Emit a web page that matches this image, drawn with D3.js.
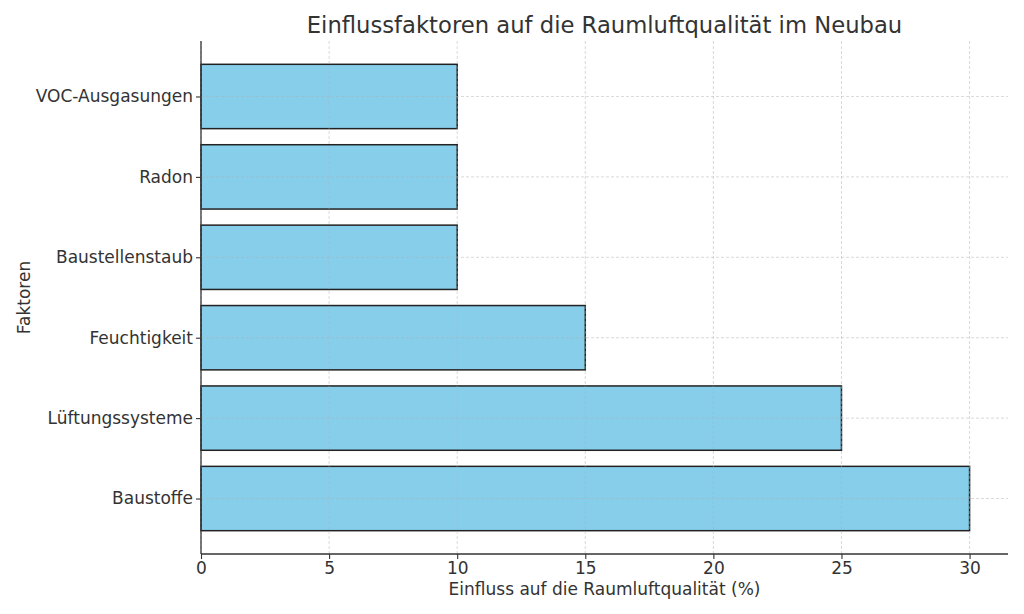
<!DOCTYPE html>
<html><head><meta charset="utf-8">
<script src="https://cdn.jsdelivr.net/npm/d3@7"></script>
<style>body{margin:0;background:#fff}svg{display:block}text{font-family:"DejaVu Sans",sans-serif;fill:#333}</style>
</head><body><svg id="c" width="1024" height="614"></svg>
<script>
const categories = ["Baustoffe","Lüftungssysteme","Feuchtigkeit","Baustellenstaub","Radon","VOC-Ausgasungen"];
const values = [30,25,15,10,10,10];
const xTicks = [0,5,10,15,20,25,30];
const title = "Einflussfaktoren auf die Raumluftqualität im Neubau";
const xLabel = "Einfluss auf die Raumluftqualität (%)";
const yLabel = "Faktoren";

const L=201,R=1008,T=41,B=554;
const svg=d3.select("#c");
const x=d3.scaleLinear().domain([0,31.5]).range([L,R]);
const y=d3.scaleLinear().domain([-0.69,5.69]).range([B,T]);
const bh=y(0)-y(0.8);

const g=svg.append("g");
g.selectAll("rect.bar").data(values).join("rect").attr("class","bar")
 .attr("x",x(0)).attr("y",(d,i)=>y(i)-bh/2).attr("width",d=>x(d)-x(0)).attr("height",bh)
 .attr("fill","#87CEEB").attr("stroke","#222").attr("stroke-width",1.5);

// grid
g.selectAll("line.gx").data(xTicks).join("line").attr("x1",d=>x(d)).attr("x2",d=>x(d)).attr("y1",T).attr("y2",B)
 .attr("stroke","#b0b0b0").attr("stroke-opacity",0.6).attr("stroke-dasharray","3,2").attr("stroke-width",0.8);
g.selectAll("line.gy").data(categories).join("line").attr("x1",L).attr("x2",R).attr("y1",(d,i)=>y(i)).attr("y2",(d,i)=>y(i))
 .attr("stroke","#b0b0b0").attr("stroke-opacity",0.6).attr("stroke-dasharray","3,2").attr("stroke-width",0.8);

// axes
const xa=svg.append("g").attr("transform",`translate(0,${B})`)
 .call(d3.axisBottom(x).tickValues(xTicks).tickSize(5).tickPadding(3).tickFormat(d3.format("d")));
const ya=svg.append("g").attr("transform",`translate(${L},0)`)
 .call(d3.axisLeft(y).tickValues(d3.range(categories.length)).tickSize(5).tickPadding(3).tickFormat(i=>categories[i]));
[xa,ya].forEach(a=>{a.select(".domain").attr("stroke","#333").attr("stroke-width",1.3);
 a.selectAll(".tick line").attr("stroke","#333").attr("stroke-width",1.1);
 a.selectAll(".tick text").attr("font-size",17).attr("fill","#333").style("font-family","'DejaVu Sans',sans-serif");});
xa.select(".domain").attr("d",`M${L},0H${R}`);
ya.select(".domain").attr("d",`M0,${T}V${B}`);

svg.append("text").attr("x",(L+R)/2).attr("y",33).attr("text-anchor","middle").attr("font-size",22.7).text(title);
svg.append("text").attr("x",(L+R)/2).attr("y",595).attr("text-anchor","middle").attr("font-size",17).text(xLabel);
svg.append("text").attr("transform",`translate(30,${(T+B)/2}) rotate(-90)`).attr("text-anchor","middle").attr("font-size",17).text(yLabel);
</script></body></html>
